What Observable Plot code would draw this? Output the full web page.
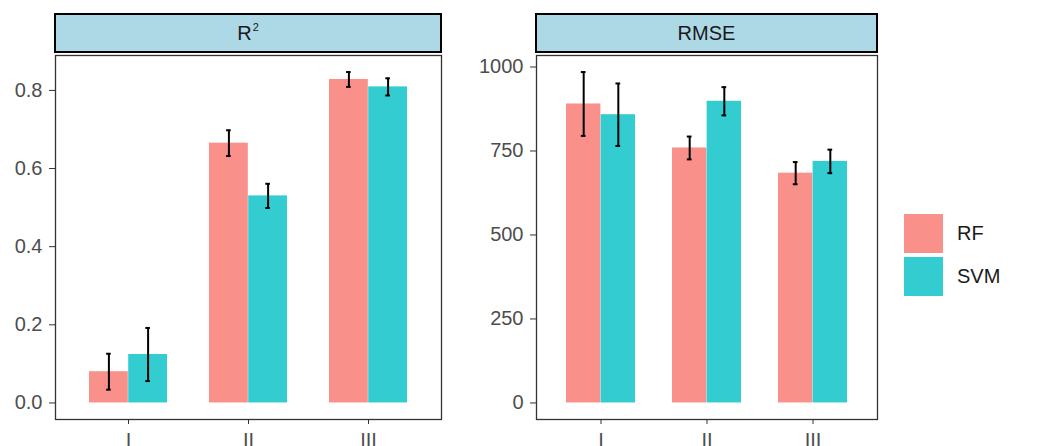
<!DOCTYPE html>
<html><head><meta charset="utf-8">
<script src="https://cdn.jsdelivr.net/npm/d3@7"></script>
<script src="https://cdn.jsdelivr.net/npm/@observablehq/plot@0.6"></script>
<style>
body{margin:0;background:#fff;font-family:"Liberation Sans",Arial,sans-serif;}
#chart{position:relative;width:1049px;height:446px;overflow:hidden;background:#fff;}
.panel{position:absolute;top:0;}
.strip{position:absolute;box-sizing:border-box;background:#ADD8E6;border:2px solid #000;color:#1A1A1A;font-size:20px;display:flex;align-items:center;justify-content:center;line-height:1;}
.strip .sup{font-size:11px;position:relative;top:-6px;margin-left:1px;}
.legend{position:absolute;left:904px;top:214px;}
.lrow{display:flex;align-items:center;height:39px;margin-bottom:4px;}
.sw{width:39px;height:39px;}
.lab{margin-left:14px;font-size:20px;color:#1A1A1A;}
</style></head><body><div id="chart"></div>
<script>
const categories = ["I", "II", "III"];
const models = ["RF", "SVM"];
const modelColors = ["#F9918A", "#33CCD0"];
const metrics = ["R²", "RMSE"];

const r2RF = [0.080, 0.665, 0.828];
const r2RFErr = [0.046, 0.033, 0.019];
const r2SVM = [0.124, 0.530, 0.809];
const r2SVMErr = [0.068, 0.031, 0.022];

const rmseRF = [890, 759, 684];
const rmseRFErr = [95, 34, 33];
const rmseSVM = [858, 898, 719];
const rmseSVMErr = [93, 42, 35];

const r2Ticks = [0, 0.2, 0.4, 0.6, 0.8];
const rmseTicks = [0, 250, 500, 750, 1000];

const chart = document.getElementById("chart");

function panel({title, values, errs, ticks, format, left, width, ml, mr}) {
  const height = 446, mt = 55, mb = 27;
  const rows = [];
  models.forEach((m, j) => categories.forEach((c, i) =>
    rows.push({cat: c, model: m, value: values[j][i], err: errs[j][i]})));
  const hi = d3.max(rows, d => d.value + d.err);
  const lo = Math.min(0, d3.min(rows, d => d.value - d.err));
  const pad = (hi - lo) * 0.05;
  const W = width - ml - mr;
  const step = W / 3.2, bw = step * 0.65, half = bw / 2;
  const marks = [];
  models.forEach((m, j) => {
    const sub = rows.filter(d => d.model === m);
    marks.push(Plot.barY(sub, {x: "cat", y: "value", fill: "model",
      insetLeft: j ? half : 0, insetRight: j ? 0 : half}));
  });
  models.forEach((m, j) => {
    const sub = rows.filter(d => d.model === m);
    const off = (j ? 1 : -1) * bw / 4;
    const capL = bw / 2 + off - 2.5, capR = bw / 2 - off - 2.5;
    marks.push(Plot.ruleX(sub, {x: "cat", y1: d => d.value - d.err, y2: d => d.value + d.err,
      dx: off, stroke: "#000", strokeWidth: 2}));
    marks.push(Plot.tickY(sub, {x: "cat", y: d => d.value + d.err, insetLeft: capL, insetRight: capR,
      stroke: "#000", strokeWidth: 2}));
    marks.push(Plot.tickY(sub, {x: "cat", y: d => d.value - d.err, insetLeft: capL, insetRight: capR,
      stroke: "#000", strokeWidth: 2}));
  });
  marks.push(Plot.axisY({ticks, tickFormat: format, tickSize: 6, tickPadding: 7, fontSize: 20,
    fill: "#4D4D4D", stroke: "#333", label: null}));
  marks.push(Plot.axisX({tickSize: 5, tickPadding: 8, fontSize: 20,
    fill: "#4D4D4D", stroke: "#333", label: null}));
  marks.push(Plot.frame({stroke: "#333", strokeWidth: 1.3}));
  const svg = Plot.plot({
    width, height, marginLeft: ml, marginRight: mr, marginTop: mt, marginBottom: mb,
    style: {fontFamily: "'Liberation Sans', Arial, sans-serif", background: "transparent"},
    x: {type: "band", domain: categories, paddingInner: 0.35, paddingOuter: 0.275},
    y: {domain: [lo - pad, hi + pad]},
    color: {domain: models, range: modelColors},
    marks
  });
  const wrap = document.createElement("div");
  wrap.className = "panel";
  wrap.style.left = left + "px";
  wrap.appendChild(svg);
  chart.appendChild(wrap);
  const strip = document.createElement("div");
  strip.className = "strip";
  strip.style.left = (left + ml - 0.8) + "px";
  strip.style.top = "13px";
  strip.style.width = (W + 1.6) + "px";
  strip.style.height = "40px";
  const m = title.match(/^(.*?)²$/);
  if (m) {
    const base = document.createElement("span");
    base.textContent = m[1];
    const sup = document.createElement("span");
    sup.className = "sup";
    sup.textContent = "2";
    strip.appendChild(base); strip.appendChild(sup);
  } else {
    strip.textContent = title;
  }
  chart.appendChild(strip);
}

panel({title: metrics[0], values: [r2RF, r2SVM], errs: [r2RFErr, r2SVMErr], ticks: r2Ticks,
  format: d => d.toFixed(1), left: 0, width: 470, ml: 55, mr: 29});
panel({title: metrics[1], values: [rmseRF, rmseSVM], errs: [rmseRFErr, rmseSVMErr], ticks: rmseTicks,
  format: d => String(d), left: 470, width: 420, ml: 66, mr: 13});

const legend = document.createElement("div");
legend.className = "legend";
models.forEach((m, j) => {
  const row = document.createElement("div");
  row.className = "lrow";
  const sw = document.createElement("div");
  sw.className = "sw";
  sw.style.background = modelColors[j];
  const lab = document.createElement("span");
  lab.className = "lab";
  lab.textContent = m;
  row.appendChild(sw); row.appendChild(lab);
  legend.appendChild(row);
});
chart.appendChild(legend);
</script></body></html>
